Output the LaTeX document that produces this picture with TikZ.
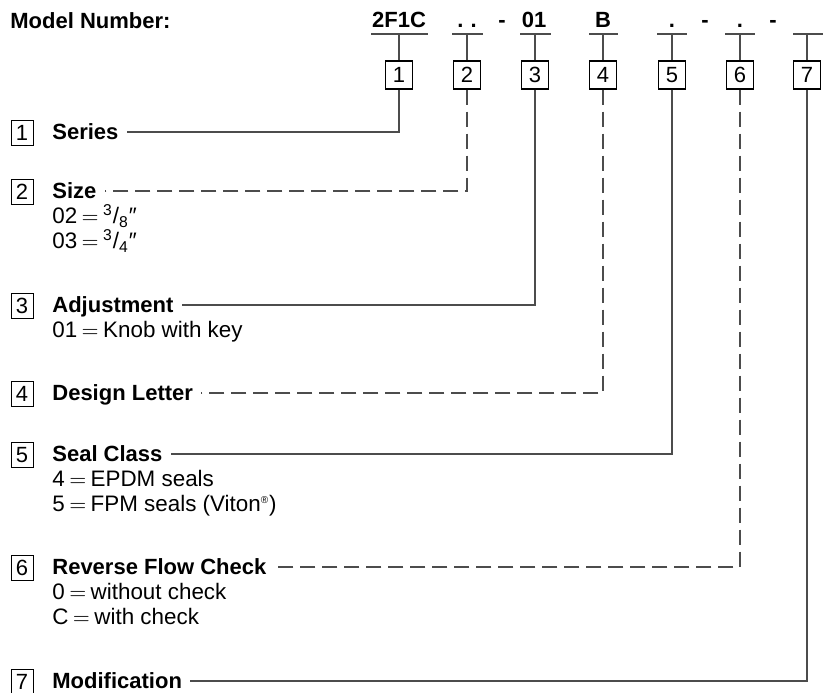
\documentclass[tikz,border=0pt]{standalone}
\usepackage{fontspec}
\setmainfont{Liberation Sans}
\newcommand{\eqsign}{\hspace{2.2pt}$=$\hspace{2.2pt}}

\begin{document}
\begin{tikzpicture}[x=0.5pt,y=-0.5pt,
	font=\fontsize{11}{13}\selectfont,
	link/.style={line width=0.75pt,black!70},
	dlink/.style={link,dash pattern=on 7.5pt off 3.5pt},
	topbox/.style={draw,line width=0.7pt,minimum width=13.5pt,minimum height=14pt,inner sep=0pt},
	sidebox/.style={draw,line width=0.5pt,minimum width=11pt,minimum height=12.5pt,inner sep=0pt},
	code/.style={anchor=base,font=\fontsize{11}{13}\selectfont\bfseries,inner sep=0pt},
	lbl/.style={anchor=west,font=\fontsize{11}{13}\selectfont\bfseries,inner xsep=4pt,inner ysep=0pt,text height=7.9pt,text depth=0pt},
	sub/.style={anchor=west,font=\fontsize{11.2}{13}\selectfont,inner sep=0pt,text height=7.9pt,text depth=0pt}]
\useasboundingbox (0,0) rectangle (823,692);
% model number line
\node[code,anchor=base west] (mn) at (10,28) {Model Number:};
\node[code] (c1) at (399,27) {2F1C};
\node[code] (c2) at (467,27) {.\hspace{3.5pt}.};
\node[code] (h1) at (502,27) {-};
\node[code] (c3) at (534,27) {01};
\node[code] (c4) at (603,27) {B};
\node[code] (c5) at (672,27) {.};
\node[code] (h2) at (705,27) {-};
\node[code] (c6) at (740,27) {.};
\node[code] (h3) at (773,27) {-};
% underlines
\draw[link] (371,34) -- (428,34);
\draw[link] (452,34) -- (483,34);
\draw[link] (520,34) -- (551,34);
\draw[link] (589,34) -- (618,34);
\draw[link] (657,34) -- (687,34);
\draw[link] (725,34) -- (755,34);
\draw[link] (793,34) -- (823,34);
\coordinate (u1) at (399,34);
\coordinate (u2) at (467,34);
\coordinate (u3) at (535,34);
\coordinate (u4) at (603,34);
\coordinate (u5) at (672,34);
\coordinate (u6) at (740,34);
\coordinate (u7) at (807,34);
% position boxes
\node[topbox] (n1) at (399,75) {1};
\node[topbox] (n2) at (467,75) {2};
\node[topbox] (n3) at (535,75) {3};
\node[topbox] (n4) at (603,75) {4};
\node[topbox] (n5) at (672,75) {5};
\node[topbox] (n6) at (740,75) {6};
\node[topbox] (n7) at (807,75) {7};
\draw[link] (u1) -- (n1.north);
\draw[link] (u2) -- (n2.north);
\draw[link] (u3) -- (n3.north);
\draw[link] (u4) -- (n4.north);
\draw[link] (u5) -- (n5.north);
\draw[link] (u6) -- (n6.north);
\draw[link] (u7) -- (n7.north);
% legend
\node[sidebox] (s1) at (22,133) {1};
\node[lbl] (l1) at (44,132) {Series};
\node[sidebox] (s2) at (22,192) {2};
\node[lbl] (l2) at (44,191) {Size};
\node[sub] (d21) at (52,216) {02\eqsign\textsuperscript{3}/\textsubscript{8}″};
\node[sub] (d22) at (52,241) {03\eqsign\textsuperscript{3}/\textsubscript{4}″};
\node[sidebox] (s3) at (22,306) {3};
\node[lbl] (l3) at (44,305) {Adjustment};
\node[sub] (d31) at (52,330) {01\eqsign Knob with key};
\node[sidebox] (s4) at (22,394) {4};
\node[lbl] (l4) at (44,393) {Design Letter};
\node[sidebox] (s5) at (22,455) {5};
\node[lbl] (l5) at (44,454) {Seal Class};
\node[sub] (d51) at (52,479) {4\eqsign EPDM seals};
\node[sub] (d52) at (52,504) {5\eqsign FPM seals (Viton\textsuperscript{\tiny ®})};
\node[sidebox] (s6) at (22,568) {6};
\node[lbl] (l6) at (44,567) {Reverse Flow Check};
\node[sub] (d61) at (52,592) {0\eqsign without check};
\node[sub] (d62) at (52,617) {C\eqsign with check};
\node[sidebox] (s7) at (22,682) {7};
\node[lbl] (l7) at (44,681) {Modification};
% leaders
\draw[link] (n1.south) |- (l1.east);
\draw[dlink] (n2.south) |- (l2.east);
\draw[link] (n3.south) |- (l3.east);
\draw[dlink] (n4.south) |- (l4.east);
\draw[link] (n5.south) |- (l5.east);
\draw[dlink] (n6.south) |- (l6.east);
\draw[link] (n7.south) |- (l7.east);
\end{tikzpicture}
\end{document}
